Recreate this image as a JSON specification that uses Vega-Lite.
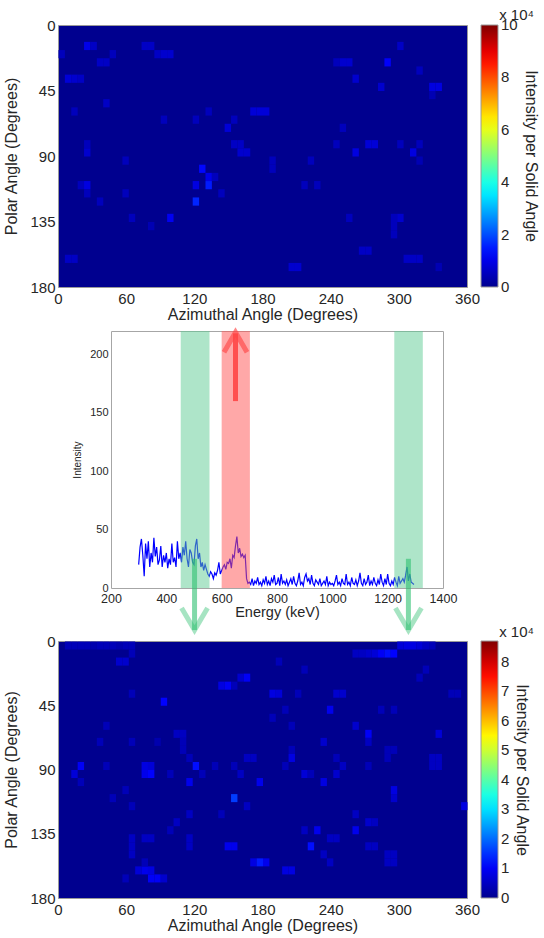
{
  "$schema": "https://vega.github.io/schema/vega-lite/v6.json",
  "padding": {"left": 3, "top": 7, "right": 0, "bottom": 0},
  "autosize": {"type": "pad"},
  "config": {
    "font": "Liberation Sans",
    "axis": {"labelFont": "Liberation Sans", "titleFont": "Liberation Sans", "labelColor": "#262626", "titleColor": "#262626", "titleFontWeight": "normal", "grid": false, "domain": false, "ticks": false},
    "legend": {"labelFont": "Liberation Sans", "titleFont": "Liberation Sans", "labelColor": "#262626", "titleColor": "#262626", "titleFontWeight": "normal"},
    "title": {"font": "Liberation Sans", "fontWeight": "normal", "color": "#262626"}
  },
  "spacing": -2,
  "resolve": {"scale": {"color": "independent"}, "legend": {"color": "independent"}},
  "vconcat": [
    {
      "width": 409,
      "height": 262,
      "title": {"text": "x 10⁴", "anchor": "end", "frame": "group", "dx": 67, "offset": -5, "fontSize": 15},
      "view": {"fill": "#00008F", "stroke": "#9a9a9a"},
      "data": {"values": [
        {"az":22.5,"pol":11.25,"v":1.0},{"az":28.125,"pol":11.25,"v":0.6},{"az":0,"pol":16.875,"v":0.5},{"az":73.125,"pol":11.25,"v":0.6},{"az":78.75,"pol":11.25,"v":0.6},
        {"az":45,"pol":16.875,"v":0.5},{"az":84.375,"pol":16.875,"v":0.6},{"az":90,"pol":16.875,"v":0.7},{"az":95.625,"pol":16.875,"v":0.7},{"az":33.75,"pol":22.5,"v":0.6},
        {"az":39.375,"pol":22.5,"v":0.6},{"az":5.625,"pol":33.75,"v":0.8},{"az":11.25,"pol":33.75,"v":0.7},{"az":16.875,"pol":33.75,"v":0.6},{"az":39.375,"pol":50.625,"v":0.6},
        {"az":11.25,"pol":56.25,"v":0.5},{"az":168.75,"pol":56.25,"v":0.8},{"az":174.375,"pol":56.25,"v":0.8},{"az":180,"pol":56.25,"v":0.8},{"az":129.375,"pol":56.25,"v":0.5},
        {"az":90,"pol":61.875,"v":0.5},{"az":118.125,"pol":61.875,"v":0.5},{"az":151.875,"pol":61.875,"v":0.5},{"az":146.25,"pol":67.5,"v":0.8},{"az":151.875,"pol":78.75,"v":0.6},
        {"az":157.5,"pol":78.75,"v":0.6},{"az":157.5,"pol":84.375,"v":0.7},{"az":163.125,"pol":84.375,"v":0.7},{"az":22.5,"pol":78.75,"v":0.5},{"az":22.5,"pol":84.375,"v":0.7},
        {"az":56.25,"pol":90,"v":0.5},{"az":123.75,"pol":95.625,"v":1.3},{"az":129.375,"pol":101.25,"v":1.0},{"az":135,"pol":101.25,"v":0.5},{"az":16.875,"pol":106.875,"v":0.5},
        {"az":22.5,"pol":106.875,"v":0.9},{"az":118.125,"pol":106.875,"v":0.9},{"az":129.375,"pol":106.875,"v":1.5},{"az":22.5,"pol":112.5,"v":0.5},{"az":56.25,"pol":112.5,"v":0.5},
        {"az":140.625,"pol":112.5,"v":0.5},{"az":33.75,"pol":118.125,"v":0.5},{"az":118.125,"pol":118.125,"v":1.6},{"az":61.875,"pol":129.375,"v":0.5},{"az":78.75,"pol":135,"v":0.4},
        {"az":95.625,"pol":129.375,"v":1.1},{"az":185.625,"pol":90,"v":0.5},{"az":185.625,"pol":95.625,"v":0.5},{"az":219.375,"pol":90,"v":0.5},{"az":213.75,"pol":106.875,"v":0.5},
        {"az":225,"pol":106.875,"v":0.5},{"az":241.875,"pol":22.5,"v":0.5},{"az":247.5,"pol":22.5,"v":0.7},{"az":253.125,"pol":22.5,"v":0.7},{"az":286.875,"pol":22.5,"v":1.2},
        {"az":298.125,"pol":11.25,"v":0.6},{"az":258.75,"pol":33.75,"v":0.7},{"az":315,"pol":28.125,"v":0.5},{"az":281.25,"pol":39.375,"v":0.7},{"az":326.25,"pol":39.375,"v":0.9},
        {"az":331.875,"pol":39.375,"v":0.9},{"az":326.25,"pol":45,"v":0.4},{"az":247.5,"pol":67.5,"v":0.5},{"az":241.875,"pol":78.75,"v":0.5},{"az":270,"pol":78.75,"v":0.8},
        {"az":275.625,"pol":78.75,"v":0.8},{"az":258.75,"pol":84.375,"v":0.9},{"az":298.125,"pol":78.75,"v":0.5},{"az":309.375,"pol":84.375,"v":0.9},{"az":315,"pol":78.75,"v":0.5},
        {"az":315,"pol":90,"v":0.4},{"az":253.125,"pol":129.375,"v":0.5},{"az":292.5,"pol":129.375,"v":0.5},{"az":298.125,"pol":129.375,"v":0.7},{"az":292.5,"pol":135,"v":0.5},
        {"az":292.5,"pol":140.625,"v":0.5},{"az":264.375,"pol":151.875,"v":0.6},{"az":270,"pol":151.875,"v":0.6},{"az":5.625,"pol":157.5,"v":0.6},{"az":11.25,"pol":157.5,"v":0.6},
        {"az":303.75,"pol":157.5,"v":0.6},{"az":309.375,"pol":157.5,"v":0.6},{"az":315,"pol":157.5,"v":0.6},{"az":202.5,"pol":163.125,"v":0.7},{"az":208.125,"pol":163.125,"v":0.7},
        {"az":331.875,"pol":163.125,"v":0.4}
      ]},
      "mark": {"type": "rect"},
      "encoding": {
        "x": {"field": "az", "type": "quantitative", "bin": {"binned": true, "step": 5.625}, "scale": {"domain": [0, 360], "nice": false, "zero": false},
              "axis": {"values": [0, 60, 120, 180, 240, 300, 360], "title": "Azimuthal Angle (Degrees)", "labelFontSize": 15, "titleFontSize": 16, "labelPadding": 4, "titlePadding": 0, "labelFlush": false}},
        "y": {"field": "pol", "type": "quantitative", "bin": {"binned": true, "step": 5.625}, "scale": {"domain": [0, 180], "nice": false, "zero": false, "reverse": true},
              "axis": {"values": [0, 45, 90, 135, 180], "title": "Polar Angle (Degrees)", "labelFontSize": 15, "titleFontSize": 16, "labelPadding": 3, "titlePadding": 10, "labelFlush": false}},
        "color": {"field": "v", "type": "quantitative",
                  "scale": {"domain": [0, 1.25, 3.75, 6.25, 8.75, 10], "range": ["#00008F", "#0000FF", "#00FFFF", "#FFFF00", "#FF0000", "#800000"], "interpolate": "rgb"},
                  "legend": {"title": "Intensity per Solid Angle", "titleOrient": "right", "titleAnchor": "middle", "gradientLength": 262, "gradientThickness": 17,
                             "values": [0, 2, 4, 6, 8, 10], "labelFontSize": 15, "titleFontSize": 16, "offset": 14, "labelOffset": 3, "titlePadding": 5,
                             "gradientStrokeColor": "#9a9a9a", "gradientStrokeWidth": 1, "labelOverlap": false,
                             "encode": {"labels": {"update": {"baseline": {"value": "middle"}}}}}}
      }
    },
    {
      "spacing": -40,
      "resolve": {"scale": {"color": "independent"}, "legend": {"color": "independent"}},
      "vconcat": [
        {
          "spacing": 0,
          "hconcat": [
            {"width": 14, "height": 10, "view": {"stroke": null}, "data": {"values": []}, "mark": "point"},
            {
              "width": 332,
              "height": 257,
              "view": {"stroke": "#a6a6a6"},
              "layer": [
                {
                  "data": {"values": [
                    {"E":300,"I":20},{"E":305,"I":35},{"E":310,"I":42},{"E":315,"I":28},{"E":320,"I":10},{"E":325,"I":38},{"E":330,"I":25},{"E":335,"I":40},{"E":340,"I":18},{"E":345,"I":30},
                    {"E":350,"I":22},{"E":355,"I":43},{"E":360,"I":27},{"E":365,"I":35},{"E":370,"I":20},{"E":375,"I":24},{"E":380,"I":36},{"E":385,"I":18},{"E":390,"I":28},{"E":395,"I":22},
                    {"E":400,"I":30},{"E":405,"I":17},{"E":410,"I":25},{"E":415,"I":20},{"E":420,"I":38},{"E":425,"I":22},{"E":430,"I":26},{"E":435,"I":18},{"E":440,"I":40},{"E":445,"I":25},
                    {"E":450,"I":30},{"E":455,"I":22},{"E":460,"I":35},{"E":465,"I":28},{"E":470,"I":40},{"E":475,"I":25},{"E":480,"I":18},{"E":485,"I":33},{"E":490,"I":30},{"E":495,"I":22},
                    {"E":500,"I":20},{"E":505,"I":36},{"E":510,"I":42},{"E":515,"I":25},{"E":520,"I":30},{"E":525,"I":18},{"E":530,"I":22},{"E":535,"I":15},{"E":540,"I":20},{"E":545,"I":16},
                    {"E":550,"I":12},{"E":555,"I":10},{"E":560,"I":14},{"E":565,"I":12},{"E":570,"I":8},{"E":575,"I":13},{"E":580,"I":11},{"E":585,"I":15},{"E":590,"I":22},{"E":595,"I":12},
                    {"E":600,"I":15},{"E":605,"I":18},{"E":610,"I":20},{"E":615,"I":16},{"E":620,"I":22},{"E":625,"I":21},{"E":630,"I":25},{"E":635,"I":17},{"E":640,"I":28},{"E":645,"I":26},
                    {"E":650,"I":36},{"E":655,"I":44},{"E":660,"I":30},{"E":665,"I":34},{"E":670,"I":27},{"E":675,"I":29},{"E":680,"I":26},{"E":685,"I":28},{"E":690,"I":8},{"E":695,"I":4},
                    {"E":700,"I":5},{"E":705,"I":3},{"E":710,"I":8},{"E":715,"I":2},{"E":720,"I":6},{"E":725,"I":4},{"E":730,"I":9},{"E":735,"I":3},{"E":740,"I":5},{"E":745,"I":2},
                    {"E":750,"I":7},{"E":755,"I":4},{"E":760,"I":10},{"E":765,"I":3},{"E":770,"I":6},{"E":775,"I":2},{"E":780,"I":8},{"E":785,"I":5},{"E":790,"I":11},{"E":795,"I":3},
                    {"E":800,"I":4},{"E":805,"I":9},{"E":810,"I":2},{"E":815,"I":12},{"E":820,"I":4},{"E":825,"I":6},{"E":830,"I":3},{"E":835,"I":7},{"E":840,"I":2},{"E":845,"I":5},
                    {"E":850,"I":8},{"E":855,"I":3},{"E":860,"I":10},{"E":865,"I":4},{"E":870,"I":2},{"E":875,"I":6},{"E":880,"I":13},{"E":885,"I":3},{"E":890,"I":5},{"E":895,"I":2},
                    {"E":900,"I":9},{"E":905,"I":12},{"E":910,"I":6},{"E":915,"I":8},{"E":920,"I":3},{"E":925,"I":11},{"E":930,"I":4},{"E":935,"I":2},{"E":940,"I":7},{"E":945,"I":5},
                    {"E":950,"I":3},{"E":955,"I":8},{"E":960,"I":2},{"E":965,"I":4},{"E":970,"I":6},{"E":975,"I":3},{"E":980,"I":10},{"E":985,"I":2},{"E":990,"I":5},{"E":995,"I":3},
                    {"E":1000,"I":4},{"E":1005,"I":2},{"E":1010,"I":6},{"E":1015,"I":11},{"E":1020,"I":3},{"E":1025,"I":5},{"E":1030,"I":2},{"E":1035,"I":8},{"E":1040,"I":4},{"E":1045,"I":3},
                    {"E":1050,"I":12},{"E":1055,"I":3},{"E":1060,"I":5},{"E":1065,"I":2},{"E":1070,"I":9},{"E":1075,"I":4},{"E":1080,"I":3},{"E":1085,"I":7},{"E":1090,"I":2},{"E":1095,"I":6},
                    {"E":1100,"I":13},{"E":1105,"I":4},{"E":1110,"I":2},{"E":1115,"I":8},{"E":1120,"I":3},{"E":1125,"I":5},{"E":1130,"I":11},{"E":1135,"I":2},{"E":1140,"I":6},{"E":1145,"I":3},
                    {"E":1150,"I":9},{"E":1155,"I":4},{"E":1160,"I":2},{"E":1165,"I":7},{"E":1170,"I":3},{"E":1175,"I":12},{"E":1180,"I":5},{"E":1185,"I":2},{"E":1190,"I":8},{"E":1195,"I":3},
                    {"E":1200,"I":12},{"E":1205,"I":4},{"E":1210,"I":2},{"E":1215,"I":6},{"E":1220,"I":3},{"E":1225,"I":9},{"E":1230,"I":5},{"E":1235,"I":2},{"E":1240,"I":10},{"E":1245,"I":4},
                    {"E":1250,"I":6},{"E":1255,"I":8},{"E":1260,"I":5},{"E":1265,"I":11},{"E":1270,"I":18},{"E":1275,"I":6},{"E":1280,"I":12},{"E":1285,"I":5},{"E":1290,"I":4},{"E":1295,"I":3}
                  ]},
                  "mark": {"type": "line", "color": "#0000FF", "strokeWidth": 1.2},
                  "encoding": {
                    "x": {"field": "E", "type": "quantitative", "scale": {"domain": [200, 1400], "nice": false, "zero": false},
                          "axis": {"values": [200, 400, 600, 800, 1000, 1200, 1400], "format": "d", "title": "Energy (keV)", "labelFontSize": 12.5, "titleFontSize": 14.5, "labelPadding": 4, "titlePadding": 1, "labelFlush": false}},
                    "y": {"field": "I", "type": "quantitative", "scale": {"domain": [0, 220], "nice": false, "zero": false},
                          "axis": {"values": [0, 50, 100, 150, 200], "title": "Intensity", "labelFontSize": 11, "titleFontSize": 10, "labelPadding": 3, "titlePadding": 7, "labelFlush": false}}
                  }
                },
                {
                  "data": {"values": [{"s": 452, "e": 556}, {"s": 1224, "e": 1327}]},
                  "mark": {"type": "rect", "color": "#5DCB94", "opacity": 0.5},
                  "encoding": {"x": {"field": "s", "type": "quantitative"}, "x2": {"field": "e"}}
                },
                {
                  "data": {"values": [{"s": 600, "e": 702}]},
                  "mark": {"type": "rect", "color": "#FF5252", "opacity": 0.5},
                  "encoding": {"x": {"field": "s", "type": "quantitative"}, "x2": {"field": "e"}}
                },
                {
                  "data": {"values": [{"x": 502, "y1": 25, "y2": -36}, {"x": 1275, "y1": 25, "y2": -36}]},
                  "mark": {"type": "rule", "color": "#2DC070", "opacity": 0.6, "strokeWidth": 5},
                  "encoding": {"x": {"field": "x", "type": "quantitative"}, "y": {"field": "y1", "type": "quantitative"}, "y2": {"field": "y2"}}
                },
                {
                  "data": {"values": [{"x": 502, "y": -36}, {"x": 1275, "y": -36}]},
                  "mark": {"type": "point", "shape": "M-1,-1.7L0,0L1,-1.7", "size": 676, "filled": false, "stroke": "#2DC070", "strokeOpacity": 0.6, "strokeWidth": 5},
                  "encoding": {"x": {"field": "x", "type": "quantitative"}, "y": {"field": "y", "type": "quantitative"}}
                },
                {
                  "data": {"values": [{"x": 650, "y1": 160, "y2": 218}]},
                  "mark": {"type": "rule", "color": "#FF4545", "opacity": 0.9, "strokeWidth": 5},
                  "encoding": {"x": {"field": "x", "type": "quantitative"}, "y": {"field": "y1", "type": "quantitative"}, "y2": {"field": "y2"}}
                },
                {
                  "data": {"values": [{"x": 650, "y": 219}]},
                  "mark": {"type": "point", "shape": "M-1,1.75L0,0L1,1.75", "size": 529, "filled": false, "stroke": "#FF4545", "strokeOpacity": 0.9, "strokeWidth": 5},
                  "encoding": {"x": {"field": "x", "type": "quantitative"}, "y": {"field": "y", "type": "quantitative"}}
                }
              ]
            }
          ]
        },
        {
          "width": 409,
          "height": 257,
          "title": {"text": "x 10⁴", "anchor": "end", "frame": "group", "dx": 67, "offset": -6, "fontSize": 15},
          "view": {"fill": "#00008F", "stroke": "#9a9a9a"},
          "data": {"values": [
            {"az":5.625,"pol":0,"v":0.4},{"az":11.25,"pol":0,"v":0.4},{"az":16.875,"pol":0,"v":0.4},{"az":22.5,"pol":0,"v":0.4},{"az":28.125,"pol":0,"v":0.3},
            {"az":33.75,"pol":0,"v":0.4},{"az":39.375,"pol":0,"v":0.4},{"az":45,"pol":0,"v":0.4},{"az":50.625,"pol":0,"v":0.3},{"az":56.25,"pol":0,"v":0.4},
            {"az":61.875,"pol":0,"v":0.4},{"az":298.125,"pol":0,"v":0.7},{"az":303.75,"pol":0,"v":0.8},{"az":309.375,"pol":0,"v":0.8},{"az":315,"pol":0,"v":0.7},
            {"az":320.625,"pol":0,"v":0.5},{"az":326.25,"pol":0,"v":0.4},
            {"az":258.75,"pol":5.625,"v":0.5},{"az":264.375,"pol":5.625,"v":0.5},{"az":270,"pol":5.625,"v":0.6},{"az":275.625,"pol":5.625,"v":0.7},{"az":281.25,"pol":5.625,"v":1.0},
            {"az":286.875,"pol":5.625,"v":1.2},{"az":292.5,"pol":5.625,"v":1.1},{"az":61.875,"pol":5.625,"v":0.4},
            {"az":50.625,"pol":11.25,"v":0.6},{"az":56.25,"pol":11.25,"v":0.6},{"az":191.25,"pol":11.25,"v":0.4},{"az":213.75,"pol":16.875,"v":0.4},{"az":320.625,"pol":16.875,"v":0.4},
            {"az":315,"pol":22.5,"v":0.4},{"az":157.5,"pol":22.5,"v":0.6},{"az":163.125,"pol":22.5,"v":1.0},{"az":140.625,"pol":28.125,"v":0.8},{"az":146.25,"pol":28.125,"v":1.0},
            {"az":151.875,"pol":28.125,"v":0.4},{"az":61.875,"pol":33.75,"v":0.4},{"az":90,"pol":39.375,"v":1.1},{"az":185.625,"pol":33.75,"v":0.8},{"az":191.25,"pol":33.75,"v":0.7},
            {"az":208.125,"pol":33.75,"v":0.4},{"az":241.875,"pol":33.75,"v":0.6},{"az":247.5,"pol":33.75,"v":0.6},{"az":343.125,"pol":33.75,"v":0.4},{"az":348.75,"pol":33.75,"v":0.4},
            {"az":196.875,"pol":45,"v":0.4},{"az":236.25,"pol":45,"v":0.9},{"az":281.25,"pol":45,"v":0.4},{"az":292.5,"pol":45,"v":0.4},{"az":185.625,"pol":50.625,"v":0.4},
            {"az":39.375,"pol":56.25,"v":0.4},{"az":202.5,"pol":56.25,"v":0.4},{"az":258.75,"pol":56.25,"v":0.6},{"az":101.25,"pol":61.875,"v":0.5},{"az":106.875,"pol":61.875,"v":0.5},
            {"az":270,"pol":61.875,"v":1.0},{"az":270,"pol":67.5,"v":0.5},{"az":331.875,"pol":61.875,"v":0.7},{"az":33.75,"pol":67.5,"v":0.4},{"az":61.875,"pol":67.5,"v":0.4},
            {"az":84.375,"pol":67.5,"v":0.3},{"az":106.875,"pol":67.5,"v":0.4},{"az":106.875,"pol":73.125,"v":0.4},{"az":230.625,"pol":67.5,"v":0.6},{"az":292.5,"pol":73.125,"v":0.4},
            {"az":202.5,"pol":73.125,"v":0.4},{"az":16.875,"pol":84.375,"v":1.0},{"az":11.25,"pol":90,"v":0.7},{"az":16.875,"pol":95.625,"v":0.4},{"az":39.375,"pol":84.375,"v":0.4},
            {"az":73.125,"pol":84.375,"v":0.8},{"az":78.75,"pol":84.375,"v":0.7},{"az":73.125,"pol":90,"v":0.9},{"az":78.75,"pol":90,"v":1.1},{"az":95.625,"pol":90,"v":0.4},
            {"az":118.125,"pol":84.375,"v":1.2},{"az":123.75,"pol":90,"v":0.4},{"az":135,"pol":84.375,"v":0.4},{"az":151.875,"pol":84.375,"v":0.4},{"az":157.5,"pol":90,"v":0.5},
            {"az":163.125,"pol":78.75,"v":0.5},{"az":168.75,"pol":78.75,"v":0.5},{"az":112.5,"pol":78.75,"v":0.4},{"az":112.5,"pol":95.625,"v":0.9},{"az":174.375,"pol":95.625,"v":0.9},
            {"az":196.875,"pol":84.375,"v":0.4},{"az":202.5,"pol":78.75,"v":0.8},{"az":213.75,"pol":90,"v":0.7},{"az":219.375,"pol":90,"v":0.4},{"az":230.625,"pol":95.625,"v":0.8},
            {"az":241.875,"pol":78.75,"v":0.4},{"az":241.875,"pol":90,"v":0.6},{"az":247.5,"pol":84.375,"v":0.5},{"az":270,"pol":84.375,"v":0.4},{"az":286.875,"pol":73.125,"v":0.4},
            {"az":286.875,"pol":78.75,"v":0.4},{"az":326.25,"pol":78.75,"v":0.5},{"az":331.875,"pol":78.75,"v":0.5},{"az":326.25,"pol":84.375,"v":0.5},{"az":331.875,"pol":84.375,"v":0.5},
            {"az":45,"pol":106.875,"v":0.4},{"az":56.25,"pol":101.25,"v":0.4},{"az":61.875,"pol":112.5,"v":0.4},{"az":151.875,"pol":106.875,"v":1.6},{"az":163.125,"pol":112.5,"v":0.5},
            {"az":292.5,"pol":101.25,"v":0.8},{"az":292.5,"pol":106.875,"v":0.6},{"az":354.375,"pol":112.5,"v":0.8},{"az":112.5,"pol":118.125,"v":0.5},{"az":140.625,"pol":118.125,"v":0.4},
            {"az":258.75,"pol":118.125,"v":0.5},{"az":270,"pol":123.75,"v":0.6},{"az":258.75,"pol":129.375,"v":0.9},{"az":275.625,"pol":123.75,"v":0.5},{"az":101.25,"pol":123.75,"v":0.5},
            {"az":95.625,"pol":129.375,"v":0.4},{"az":213.75,"pol":129.375,"v":0.5},{"az":225,"pol":129.375,"v":0.9},{"az":236.25,"pol":135,"v":0.5},{"az":241.875,"pol":135,"v":0.5},
            {"az":73.125,"pol":135,"v":0.5},{"az":78.75,"pol":135,"v":0.5},{"az":61.875,"pol":135,"v":0.5},{"az":61.875,"pol":140.625,"v":0.5},{"az":61.875,"pol":146.25,"v":0.5},
            {"az":112.5,"pol":135,"v":0.5},{"az":112.5,"pol":140.625,"v":0.5},{"az":146.25,"pol":140.625,"v":0.9},{"az":151.875,"pol":140.625,"v":0.9},{"az":219.375,"pol":140.625,"v":1.2},
            {"az":230.625,"pol":146.25,"v":0.5},{"az":236.25,"pol":151.875,"v":0.5},{"az":270,"pol":140.625,"v":0.5},{"az":275.625,"pol":140.625,"v":0.5},{"az":286.875,"pol":151.875,"v":0.5},
            {"az":292.5,"pol":151.875,"v":0.5},{"az":168.75,"pol":151.875,"v":0.8},{"az":174.375,"pol":151.875,"v":1.3},{"az":180,"pol":151.875,"v":0.9},{"az":196.875,"pol":157.5,"v":0.8},
            {"az":202.5,"pol":157.5,"v":0.8},{"az":67.5,"pol":157.5,"v":0.7},{"az":73.125,"pol":157.5,"v":0.9},{"az":78.75,"pol":157.5,"v":0.8},{"az":78.75,"pol":163.125,"v":1.0},
            {"az":84.375,"pol":163.125,"v":1.0},{"az":90,"pol":163.125,"v":0.6},{"az":56.25,"pol":163.125,"v":0.4},{"az":73.125,"pol":151.875,"v":0.4},{"az":286.875,"pol":146.25,"v":0.5},
            {"az":292.5,"pol":146.25,"v":0.5}
          ]},
          "mark": {"type": "rect"},
          "encoding": {
            "x": {"field": "az", "type": "quantitative", "bin": {"binned": true, "step": 5.625}, "scale": {"domain": [0, 360], "nice": false, "zero": false},
                  "axis": {"values": [0, 60, 120, 180, 240, 300, 360], "title": "Azimuthal Angle (Degrees)", "labelFontSize": 15, "titleFontSize": 16, "labelPadding": 4, "titlePadding": 0, "labelFlush": false}},
            "y": {"field": "pol", "type": "quantitative", "bin": {"binned": true, "step": 5.625}, "scale": {"domain": [0, 180], "nice": false, "zero": false, "reverse": true},
                  "axis": {"values": [0, 45, 90, 135, 180], "title": "Polar Angle (Degrees)", "labelFontSize": 15, "titleFontSize": 16, "labelPadding": 3, "titlePadding": 10, "labelFlush": false}},
            "color": {"field": "v", "type": "quantitative",
                      "scale": {"domain": [0, 1.0875, 3.2625, 5.4375, 7.6125, 8.7], "range": ["#00008F", "#0000FF", "#00FFFF", "#FFFF00", "#FF0000", "#800000"], "interpolate": "rgb"},
                      "legend": {"title": "Intensity per Solid Angle", "titleOrient": "right", "titleAnchor": "middle", "gradientLength": 257, "gradientThickness": 17,
                                 "values": [0, 1, 2, 3, 4, 5, 6, 7, 8], "labelFontSize": 15, "titleFontSize": 16, "offset": 14, "labelOffset": 3, "titlePadding": 5,
                                 "gradientStrokeColor": "#9a9a9a", "gradientStrokeWidth": 1, "labelOverlap": false,
                                 "encode": {"labels": {"update": {"baseline": {"value": "middle"}}}}}}
          }
        }
      ]
    }
  ]
}
